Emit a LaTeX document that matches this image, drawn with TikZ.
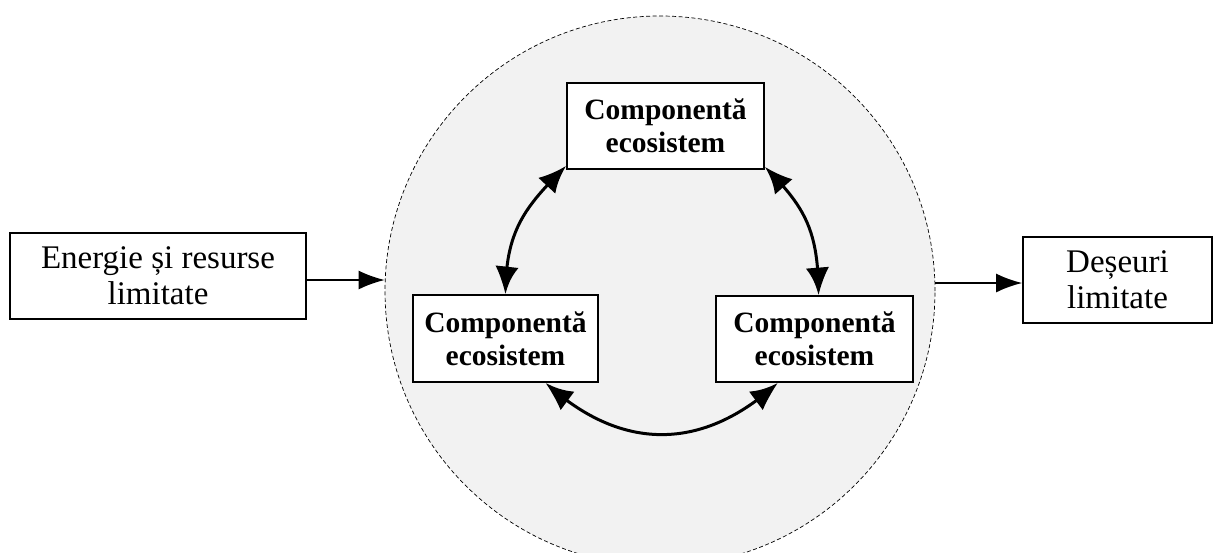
\documentclass[tikz,border=0pt]{standalone}
\usepackage{fontspec}
\setmainfont{Liberation Serif}
\usetikzlibrary{arrows.meta,bending,calc}

\begin{document}
\begin{tikzpicture}[x=1pt,y=-1pt,
  plainbox/.style={draw, line width=1.7pt, fill=white, align=center, inner sep=0pt,
    font=\fontsize{33}{36}\selectfont},
  compbox/.style={draw, line width=1.7pt, fill=white, align=center, inner sep=0pt,
    minimum width=197pt, minimum height=86pt,
    font=\fontsize{29.5}{33}\selectfont\bfseries},
  flow/.style={line width=1.8pt, -{Latex[length=26pt,width=19pt]}},
  cycle/.style={line width=3pt, {Latex[length=29pt,width=23pt,bend]}-{Latex[length=29pt,width=23pt,bend]}}]

\useasboundingbox (0,0) rectangle (1214,552);

% ecosystem boundary
\node[circle, draw, dashed, dash pattern=on 4pt off 2.5pt, line width=0.7pt,
  fill={rgb,255:red,242;green,242;blue,242}, minimum size=550pt, inner sep=0pt]
  (eco) at (660,291) {};

% inputs and outputs
\node[plainbox, minimum width=296pt, minimum height=86pt] (src) at (158,276)
  {Energie și resurse\\limitate};
\node[plainbox, minimum width=189pt, minimum height=86pt] (snk) at (1117.5,280)
  {Deșeuri\\limitate};

% ecosystem components
\node[compbox] (top) at (665.5,126) {Componentă\\ecosistem};
\node[compbox, minimum width=185pt, minimum height=87pt] (lft) at (505.5,338.5) {Componentă\\ecosistem};
\node[compbox] (rgt) at (814.5,339) {Componentă\\ecosistem};

% flows across the boundary
\draw[flow] ([yshift=-4pt]src.east) -- ([yshift=-4pt]src.east -| eco.west);
\draw[flow] ([yshift=-3pt]snk.west -| eco.east) -- ([yshift=-3pt]snk.west);

% interactions between components
\draw[cycle] ([yshift=4pt]top.south west) .. controls +(-40,40) and +(0,-65) .. (lft.north);
\draw[cycle] ([yshift=3pt]top.south east) .. controls +(40,40) and +(0,-65) .. ($(rgt.north)+(4,0)$);
\draw[cycle] ($(lft.south)!0.43!(lft.south east)$) .. controls +(75,69) and +(-75,69) .. ($(rgt.south)!0.37!(rgt.south west)$);

\end{tikzpicture}
\end{document}
